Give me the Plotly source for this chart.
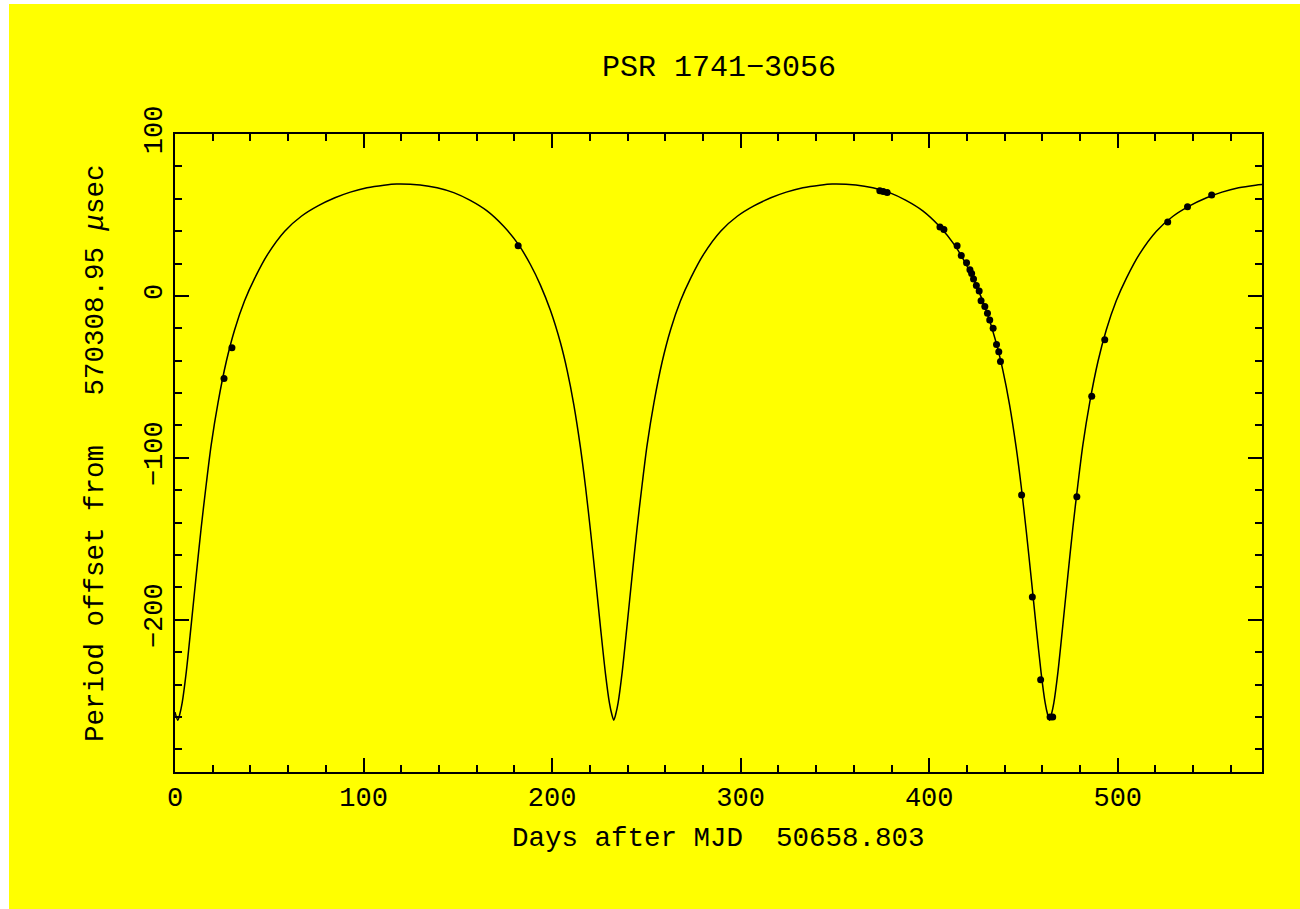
import plotly.graph_objects as go

# ---- data ----
curve_days = [0, 1.5, 2.5, 3.8, 6.0, 8.6, 11.3, 13.9, 16.6, 19.2, 22.8, 27.2, 31.6, 36.9,
              42.3, 49.3, 58.2, 67.0, 75.8, 84.8, 93.0, 101.8, 110.8, 117.5,
              130.0, 139.0, 147.8, 156.6, 165.5, 174.3, 182.3, 188.5, 193.8, 199.1,
              204.4, 208.0, 211.5, 215.0, 217.7, 220.4, 223.2, 225.7, 228.3, 230.4,
              231.7, 232.7,
              233.7, 235.0, 237.2, 239.8, 242.5, 245.1, 247.8, 250.4, 254.0, 258.4,
              262.8, 268.1, 273.5, 280.5, 289.4, 298.2, 307.0, 316.0, 324.2, 333.0,
              342.0, 348.5,
              361.1, 370.1, 378.9, 387.7, 396.6, 405.4, 413.4, 419.6, 424.9, 430.2,
              435.5, 439.1, 442.6, 446.1, 448.8, 451.5, 454.3, 456.8, 459.4, 461.5,
              462.8, 463.8,
              464.8, 466.1, 468.3, 470.9, 473.6, 476.2, 478.9, 481.5, 485.1, 489.5,
              493.9, 499.2, 504.6, 511.6, 520.5, 529.3, 538.1, 547.1, 555.3, 564.1,
              573.1, 576.5]
curve_vals = [-257, -262, -258.5, -251.3, -232, -203, -172, -143, -116, -92, -66, -40.5, -21, -3,
              11, 26, 40, 49.2, 55.6, 60.6, 64.1, 66.8, 68.4, 69.1,
              68.5, 66.8, 63.8, 59, 52.5, 43, 31.5, 19.4, 6.7, -8.9,
              -28.8, -46.1, -67.1, -93.4, -117.7, -145.5, -176.6, -205.1, -233.2, -251.3,
              -258.5, -262,
              -258.5, -251.3, -232, -203, -172, -143, -116, -92, -66, -40.5,
              -21, -3, 11, 26, 40, 49.2, 55.6, 60.6, 64.1, 66.8,
              68.4, 69.1,
              68.5, 66.8, 63.8, 59, 52.5, 43, 31.5, 19.4, 6.7, -8.9,
              -28.8, -46.1, -67.1, -93.4, -117.7, -145.5, -176.6, -205.1, -233.2, -251.3,
              -258.5, -262,
              -258.5, -251.3, -232, -203, -172, -143, -116, -92, -66, -40.5,
              -21, -3, 11, 26, 40, 49.2, 55.6, 60.6, 64.1, 66.8,
              68.4, 68.8]

obs_days = [26, 30.2, 182, 373.8, 375.6, 377.7, 405.7, 407.8, 414.8, 417, 419.8, 421.6,
            422.5, 423.5, 425, 426.5, 427.5, 429.5, 430.9, 432.1, 433.9, 435.7, 436.9,
            437.8, 449, 454.7, 459.1, 464.1, 465.5, 478.3, 486.2, 493.1, 526.5, 537, 549.8]
obs_vals = [-51, -32, 31, 64.9, 64.5, 63.8, 42.5, 41, 31, 25, 20.5, 16.2,
            13.8, 10.5, 6.5, 3, -3, -6.6, -10.7, -14.8, -20, -30, -34.4,
            -40.5, -123, -186, -237, -260, -260, -124, -62, -27, 45.7, 55, 62.3]

x_ticks = [0, 100, 200, 300, 400, 500]
y_ticks = [-200, -100, 0, 100]

title_text = "PSR 1741\u22123056"
x_title = "Days after MJD  50658.803"
y_title = "Period offset from   570308.95 <i>\u03bc</i>sec"

# ---- layout constants ----
W, H = 1300, 909
L, R, T, B = 175, 38, 134, 137
PW, PH = W - L - R, H - T - B
FONT = "Liberation Mono"
YELLOW = "#FFFF00"

fig = go.Figure()
fig.add_trace(go.Scatter(x=curve_days, y=curve_vals, mode="lines",
                         line=dict(color="black", width=1.5, shape="spline", smoothing=0.8),
                         hoverinfo="skip", showlegend=False))
fig.add_trace(go.Scatter(x=obs_days, y=obs_vals, mode="markers",
                         marker=dict(color="black", size=7, symbol="circle"),
                         showlegend=False))

axis_common = dict(showline=True, linecolor="black", linewidth=2, mirror="allticks",
                   ticks="inside", tickcolor="black", tickwidth=2, ticklen=14,
                   showgrid=False, zeroline=False,
                   tickfont=dict(family=FONT, size=27, color="black"))

fig.update_xaxes(range=[0, 576.5], tickvals=x_ticks,
                 minor=dict(dtick=20, tick0=0, ticks="inside", ticklen=7,
                            tickcolor="black", tickwidth=2, showgrid=False),
                 **axis_common)
fig.update_yaxes(range=[-294, 100], tickvals=y_ticks, tickangle=-90,
                 minor=dict(dtick=20, tick0=0, ticks="inside", ticklen=7,
                            tickcolor="black", tickwidth=2, showgrid=False),
                 **axis_common)

def px_x(px):
    return (px - L) / PW

def px_y(py):
    return (H - B - py) / PH

fig.add_shape(type="rect", xref="paper", yref="paper",
              x0=px_x(9), x1=px_x(W), y0=px_y(H), y1=px_y(4),
              fillcolor=YELLOW, line=dict(width=0), layer="below")

fig.add_annotation(text=x_title, xref="paper", yref="paper", x=0.5, y=px_y(838),
                   showarrow=False, xanchor="center", yanchor="middle",
                   font=dict(family=FONT, size=27.5, color="black"))
fig.add_annotation(text=y_title, xref="paper", yref="paper", x=px_x(95), y=px_y(453),
                   showarrow=False, xanchor="center", yanchor="middle", textangle=-90,
                   font=dict(family=FONT, size=27.5, color="black"))
fig.add_annotation(text=title_text, xref="paper", yref="paper", x=0.5, y=px_y(68),
                   showarrow=False, xanchor="center", yanchor="middle",
                   font=dict(family=FONT, size=30, color="black"))

fig.update_layout(width=W, height=H, margin=dict(l=L, r=R, t=T, b=B, pad=0),
                  paper_bgcolor="white", plot_bgcolor=YELLOW, showlegend=False)

fig.write_html("out.html")
